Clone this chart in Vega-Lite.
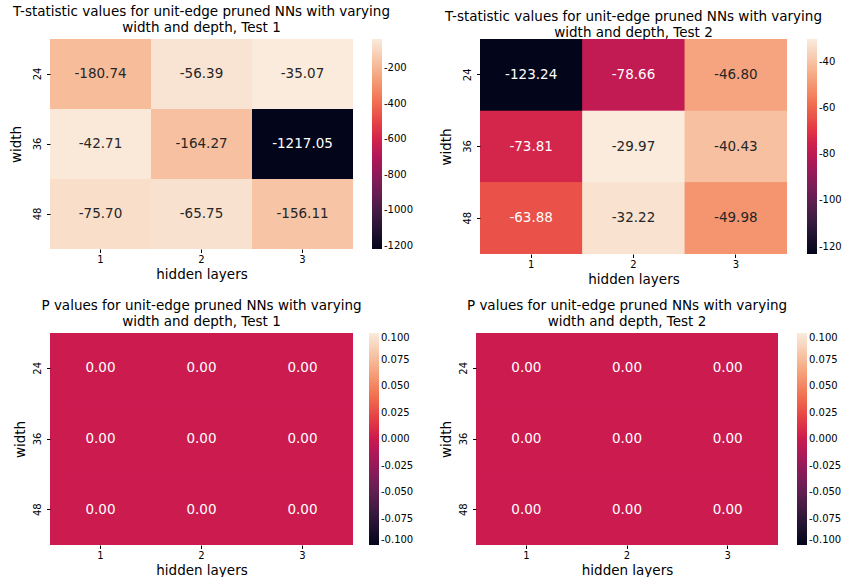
{
  "$schema": "https://vega.github.io/schema/vega-lite/v6.json",
  "padding": {"left": 9, "top": 4, "right": 5, "bottom": 0},
  "background": "white",
  "datasets": {
    "t1": [
      {"layers": 1, "width": 24, "value": -180.74},
      {"layers": 2, "width": 24, "value": -56.39},
      {"layers": 3, "width": 24, "value": -35.07},
      {"layers": 1, "width": 36, "value": -42.71},
      {"layers": 2, "width": 36, "value": -164.27},
      {"layers": 3, "width": 36, "value": -1217.05},
      {"layers": 1, "width": 48, "value": -75.70},
      {"layers": 2, "width": 48, "value": -65.75},
      {"layers": 3, "width": 48, "value": -156.11}
    ],
    "t2": [
      {"layers": 1, "width": 24, "value": -123.24},
      {"layers": 2, "width": 24, "value": -78.66},
      {"layers": 3, "width": 24, "value": -46.80},
      {"layers": 1, "width": 36, "value": -73.81},
      {"layers": 2, "width": 36, "value": -29.97},
      {"layers": 3, "width": 36, "value": -40.43},
      {"layers": 1, "width": 48, "value": -63.88},
      {"layers": 2, "width": 48, "value": -32.22},
      {"layers": 3, "width": 48, "value": -49.98}
    ],
    "p1": [
      {"layers": 1, "width": 24, "value": 0},
      {"layers": 2, "width": 24, "value": 0},
      {"layers": 3, "width": 24, "value": 0},
      {"layers": 1, "width": 36, "value": 0},
      {"layers": 2, "width": 36, "value": 0},
      {"layers": 3, "width": 36, "value": 0},
      {"layers": 1, "width": 48, "value": 0},
      {"layers": 2, "width": 48, "value": 0},
      {"layers": 3, "width": 48, "value": 0}
    ],
    "p2": [
      {"layers": 1, "width": 24, "value": 0},
      {"layers": 2, "width": 24, "value": 0},
      {"layers": 3, "width": 24, "value": 0},
      {"layers": 1, "width": 36, "value": 0},
      {"layers": 2, "width": 36, "value": 0},
      {"layers": 3, "width": 36, "value": 0},
      {"layers": 1, "width": 48, "value": 0},
      {"layers": 2, "width": 48, "value": 0},
      {"layers": 3, "width": 48, "value": 0}
    ]
  },
  "config": {
    "font": "DejaVu Sans",
    "view": {"stroke": null},
    "locale": {"number": {"decimal": ".", "thousands": ",", "grouping": [3], "currency": ["$", ""], "minus": "-"}},
    "title": {"fontSize": 13.5, "fontWeight": "normal", "color": "#000000", "anchor": "middle", "frame": "group", "offset": 5, "lineHeight": 16},
    "axis": {"domain": false, "grid": false, "ticks": true, "tickSize": 3.5, "tickColor": "#000000", "labelFontSize": 10, "labelColor": "#000000", "titleFontSize": 13.5, "titleFontWeight": "normal", "titleColor": "#000000", "labelPadding": 3},
    "axisX": {"labelAngle": 0, "titlePadding": 3, "labelPadding": 2},
    "axisY": {"labelAngle": -90, "labelAlign": "center", "labelBaseline": "bottom", "titlePadding": 9, "labelPadding": 4},
    "legend": {"gradientThickness": 10, "labelFontSize": 10, "labelColor": "#000000", "offset": 19, "gradientStrokeWidth": 0, "labelOffset": 6, "labelOverlap": false, "labelExpr": "replace(datum.label, '-', '\u2212')"}
  },
  "spacing": 12,
  "resolve": {"scale": {"color": "independent"}, "legend": {"color": "independent"}},
  "vconcat": [
    {
      "spacing": 25,
      "resolve": {"scale": {"color": "independent"}, "legend": {"color": "independent"}},
      "hconcat": [
        {
          "title": {"text": ["T-statistic values for unit-edge pruned NNs with varying", "width and depth, Test 1"], "offset": 5},
          "width": 303, "height": 210,
          "data": {"name": "t1"},
          "encoding": {
            "x": {"field": "layers", "type": "ordinal", "title": "hidden layers", "scale": {"paddingInner": 0, "paddingOuter": 0}},
            "y": {"field": "width", "type": "ordinal", "title": "width", "scale": {"paddingInner": 0, "paddingOuter": 0}},
            "color": {"field": "value", "type": "quantitative",
              "scale": {"domain": [-1217.05, -1048.196, -879.341, -710.487, -626.06, -541.633, -372.779, -203.924, -35.07], "nice": false, "zero": false, "interpolate": "rgb",
                "range": ["#03051a", "#35193e", "#701f57", "#ad1759", "#cb1b4f", "#e13342", "#f37651", "#f6b48f", "#faebdd"]},
              "legend": {"title": null, "format": "d", "values": [-1200, -1000, -800, -600, -400, -200], "gradientLength": 210}}
          },
          "layer": [
            {"mark": {"type": "rect"}},
            {"mark": {"type": "rect"}},
            {"mark": {"type": "rect"}},
            {"mark": {"type": "text", "fontSize": 13.5},
             "encoding": {"text": {"field": "value", "type": "quantitative", "format": ".2f"},
               "color": {"condition": {"test": "datum.value < -600", "value": "#ffffff"}, "value": "#262626"}}}
          ]
        },
        {
          "title": {"text": ["T-statistic values for unit-edge pruned NNs with varying", "width and depth, Test 2"], "offset": 0},
          "width": 307, "height": 215,
          "data": {"name": "t2"},
          "encoding": {
            "x": {"field": "layers", "type": "ordinal", "title": "hidden layers", "scale": {"paddingInner": 0, "paddingOuter": 0}},
            "y": {"field": "width", "type": "ordinal", "title": "width", "scale": {"paddingInner": 0, "paddingOuter": 0}},
            "color": {"field": "value", "type": "quantitative",
              "scale": {"domain": [-123.24, -109.916, -96.591, -83.267, -76.605, -69.943, -56.619, -43.294, -29.97], "nice": false, "zero": false, "interpolate": "rgb",
                "range": ["#03051a", "#35193e", "#701f57", "#ad1759", "#cb1b4f", "#e13342", "#f37651", "#f6b48f", "#faebdd"]},
              "legend": {"title": null, "values": [-120, -100, -80, -60, -40], "gradientLength": 215, "offset": 20}}
          },
          "layer": [
            {"mark": {"type": "rect"}},
            {"mark": {"type": "rect"}},
            {"mark": {"type": "rect"}},
            {"mark": {"type": "text", "fontSize": 13.5},
             "encoding": {"text": {"field": "value", "type": "quantitative", "format": ".2f"},
               "color": {"condition": {"test": "datum.value < -55", "value": "#ffffff"}, "value": "#262626"}}}
          ]
        }
      ]
    },
    {
      "spacing": 25,
      "resolve": {"scale": {"color": "independent"}, "legend": {"color": "independent"}},
      "hconcat": [
        {
          "title": {"text": ["P values for unit-edge pruned NNs with varying", "width and depth, Test 1"], "offset": 5},
          "width": 303, "height": 212,
          "data": {"name": "p1"},
          "encoding": {
            "x": {"field": "layers", "type": "ordinal", "title": "hidden layers", "scale": {"paddingInner": 0, "paddingOuter": 0}},
            "y": {"field": "width", "type": "ordinal", "title": "width", "scale": {"paddingInner": 0, "paddingOuter": 0}, "axis": {"titlePadding": 5}},
            "color": {"field": "value", "type": "quantitative",
              "scale": {"domain": [-0.1, -0.07143, -0.04286, -0.01429, 0, 0.01429, 0.04286, 0.07143, 0.1], "nice": false, "zero": false, "interpolate": "rgb",
                "range": ["#03051a", "#35193e", "#701f57", "#ad1759", "#cb1b4f", "#e13342", "#f37651", "#f6b48f", "#faebdd"]},
              "legend": {"title": null, "format": ".3f", "values": [-0.1, -0.075, -0.05, -0.025, 0, 0.025, 0.05, 0.075, 0.1], "gradientLength": 212, "offset": 16}}
          },
          "layer": [
            {"mark": {"type": "rect"}},
            {"mark": {"type": "rect"}},
            {"mark": {"type": "rect"}},
            {"mark": {"type": "text", "fontSize": 13.5},
             "encoding": {"text": {"field": "value", "type": "quantitative", "format": ".2f"},
               "color": {"value": "#ffffff"}}}
          ]
        },
        {
          "title": {"text": ["P values for unit-edge pruned NNs with varying", "width and depth, Test 2"], "offset": 5},
          "width": 302, "height": 212,
          "data": {"name": "p2"},
          "encoding": {
            "x": {"field": "layers", "type": "ordinal", "title": "hidden layers", "scale": {"paddingInner": 0, "paddingOuter": 0}},
            "y": {"field": "width", "type": "ordinal", "title": "width", "scale": {"paddingInner": 0, "paddingOuter": 0}, "axis": {"titlePadding": 5}},
            "color": {"field": "value", "type": "quantitative",
              "scale": {"domain": [-0.1, -0.07143, -0.04286, -0.01429, 0, 0.01429, 0.04286, 0.07143, 0.1], "nice": false, "zero": false, "interpolate": "rgb",
                "range": ["#03051a", "#35193e", "#701f57", "#ad1759", "#cb1b4f", "#e13342", "#f37651", "#f6b48f", "#faebdd"]},
              "legend": {"title": null, "format": ".3f", "values": [-0.1, -0.075, -0.05, -0.025, 0, 0.025, 0.05, 0.075, 0.1], "gradientLength": 212}}
          },
          "layer": [
            {"mark": {"type": "rect"}},
            {"mark": {"type": "rect"}},
            {"mark": {"type": "rect"}},
            {"mark": {"type": "text", "fontSize": 13.5},
             "encoding": {"text": {"field": "value", "type": "quantitative", "format": ".2f"},
               "color": {"value": "#ffffff"}}}
          ]
        }
      ]
    }
  ]
}
